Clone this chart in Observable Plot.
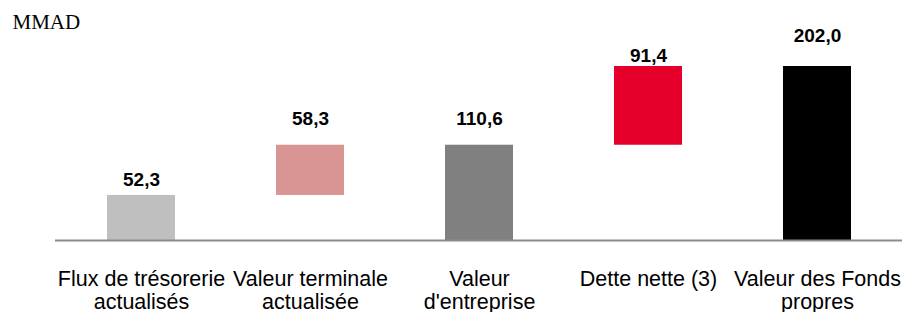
<!DOCTYPE html>
<html>
<head>
<meta charset="utf-8">
<script src="https://cdn.jsdelivr.net/npm/d3@7"></script>
<script src="https://cdn.jsdelivr.net/npm/@observablehq/plot@0.6"></script>
<style>
  html, body { margin: 0; padding: 0; background: #ffffff; }
  #chart { width: 904px; height: 312px; }
</style>
</head>
<body>
<div id="chart"></div>
<script>
// ---- data ----
const unitLabel = "MMAD";
const categories = [
  "Flux de trésorerie\nactualisés",
  "Valeur terminale\nactualisée",
  "Valeur\nd'entreprise",
  "Dette nette (3)",
  "Valeur des Fonds\npropres"
];
const values = [52.3, 58.3, 110.6, 91.4, 202.0];
const kinds = ["total", "delta", "total", "delta", "total"];
const colors = ["#bfbfbf", "#d99594", "#808080", "#e4002b", "#000000"];

// ---- build waterfall rows ----
let running = 0;
const rows = categories.map((c, i) => {
  let start, end;
  if (kinds[i] === "total") { start = 0; end = values[i]; running = values[i]; }
  else { start = running; end = running + values[i]; running = end; }
  return { cat: c, start, end, value: values[i], color: colors[i] };
});

const fmt = v => d3.format(".1f")(v).replace(".", ",");
// label lift above each bar top (pixels), style only
const lift = [9, 20, 20, 4.5, 25];

const chart = Plot.plot({
  width: 904,
  height: 312,
  marginLeft: 55,
  marginRight: 2,
  marginTop: 66,
  marginBottom: 72,
  style: { fontFamily: "'Liberation Sans', Arial, sans-serif", background: "#ffffff" },
  x: { domain: categories, paddingInner: 0.6, paddingOuter: 0.3, axis: null },
  y: { domain: [0, 202], axis: null },
  marks: [
    Plot.barY(rows, { x: "cat", y1: "start", y2: "end", fill: "color" }),
    ...rows.map((r, i) => Plot.text([r], {
      x: "cat", y: "end", text: d => fmt(d.value),
      lineAnchor: "bottom", dy: -lift[i],
      fontSize: 19, fontWeight: "bold", fill: "#000000",
      style: "letter-spacing:0.6px"
    })),
    Plot.axisX({
      tickSize: 0, tickPadding: 30, fontSize: 21.5, lineHeight: 1.04,
      label: null, fill: "#000000"
    }),
    Plot.ruleY([0], { stroke: "#8c8c8c", strokeWidth: 2 }),
    Plot.text([unitLabel], {
      frameAnchor: "top-left", dx: -43, dy: -38, lineAnchor: "bottom",
      textAnchor: "start", fontSize: 21, fill: "#000000",
      fontFamily: "'Liberation Serif', 'Times New Roman', serif"
    })
  ]
});
document.getElementById("chart").appendChild(chart);
</script>
</body>
</html>
